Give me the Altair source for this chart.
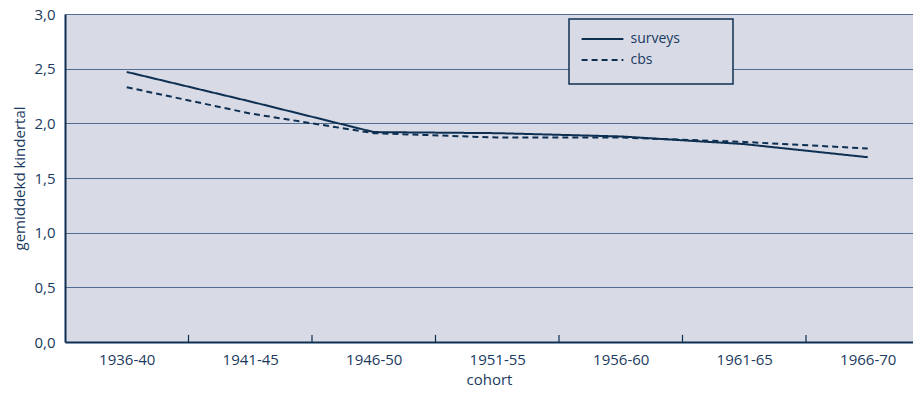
import altair as alt
import pandas as pd

cohorts = ["1936-40", "1941-45", "1946-50", "1951-55", "1956-60", "1961-65", "1966-70"]
surveys = [2.47, 2.20, 1.92, 1.91, 1.88, 1.81, 1.69]
cbs = [2.33, 2.09, 1.91, 1.87, 1.87, 1.83, 1.77]
series_names = ["surveys", "cbs"]
y_ticks = [0, 0.5, 1.0, 1.5, 2.0, 2.5, 3.0]

rows = []
for name, vals in zip(series_names, [surveys, cbs]):
    for i, (c, v) in enumerate(zip(cohorts, vals)):
        rows.append({"idx": i, "cohort": c, "value": v, "series": name})
df = pd.DataFrame(rows)
# band boundaries between cohorts
ticks_df = pd.DataFrame({"pos": [i - 0.5 for i in range(1, len(cohorts))], "lo": 0.0, "hi": 0.065})

NAVY = "#0d2f52"
TEXT = "#1a3a60"
BG = "#d8dae5"
FONT = "Open Sans"

PLOT_W = 848
PLOT_H = 328
BAND = 123.5
xscale = alt.Scale(domain=[-0.5, -0.5 + PLOT_W / BAND], nice=False, zero=False)
yscale = alt.Scale(domain=[0, 3], nice=False)

label_list = "[" + ",".join("'%s'" % c for c in cohorts) + "]"

# legend frame (decoration)
frame = alt.Chart(pd.DataFrame({"k": [0]})).mark_rect(
    fill=BG, stroke=NAVY, strokeWidth=1.5
).encode(
    x=alt.value(504), x2=alt.value(668), y=alt.value(5), y2=alt.value(70)
)

lines = alt.Chart(df).mark_line(strokeWidth=2, color=NAVY).encode(
    x=alt.X("idx:Q", scale=xscale,
            axis=alt.Axis(title="cohort", values=list(range(len(cohorts))),
                          labelExpr=label_list + "[datum.value]",
                          labelAngle=0, ticks=False, grid=False,
                          domainColor=NAVY, domainWidth=2, labelPadding=10,
                          titlePadding=5)),
    y=alt.Y("value:Q", scale=yscale,
            axis=alt.Axis(title="gemiddekd kindertal", values=y_ticks, ticks=False,
                          grid=True, gridColor="#4f6e92", gridWidth=1.2,
                          domainColor=NAVY, domainWidth=2, labelPadding=10,
                          titlePadding=6,
                          labelExpr="replace(format(datum.value, '.1f'), '.', ',')")),
    strokeDash=alt.StrokeDash("series:N",
                              scale=alt.Scale(domain=series_names, range=[[1, 0], [6, 4]]),
                              legend=alt.Legend(title=None, orient="none", legendX=515, legendY=18,
                                                padding=0, symbolType="M-3.8,0L3.8,0",
                                                symbolSize=121, symbolStrokeWidth=2,
                                                symbolStrokeColor=NAVY,
                                                symbolFillColor="transparent",
                                                symbolOffset=15.5,
                                                labelOffset=21, rowPadding=7)),
)

tick_marks = alt.Chart(ticks_df).mark_rule(color=NAVY, strokeWidth=1.2).encode(
    x=alt.X("pos:Q", scale=xscale),
    y=alt.Y("lo:Q", scale=yscale),
    y2="hi:Q",
)

chart = alt.layer(frame, tick_marks, lines).properties(
    width=PLOT_W, height=PLOT_H,
    autosize=alt.AutoSizeParams(type="none"),
    padding={"left": 57, "top": 6, "right": 0, "bottom": 47},
    background="white",
).configure_view(
    fill=BG, stroke=None
).configure_axis(
    labelFont=FONT, titleFont=FONT, labelColor=TEXT, titleColor=TEXT,
    labelFontSize=15, titleFontSize=15, titleFontWeight="normal",
).configure_legend(
    labelFont=FONT, labelFontSize=14, labelColor=TEXT,
)

chart.save("out.html", embed_options={"renderer": "svg", "actions": False})
